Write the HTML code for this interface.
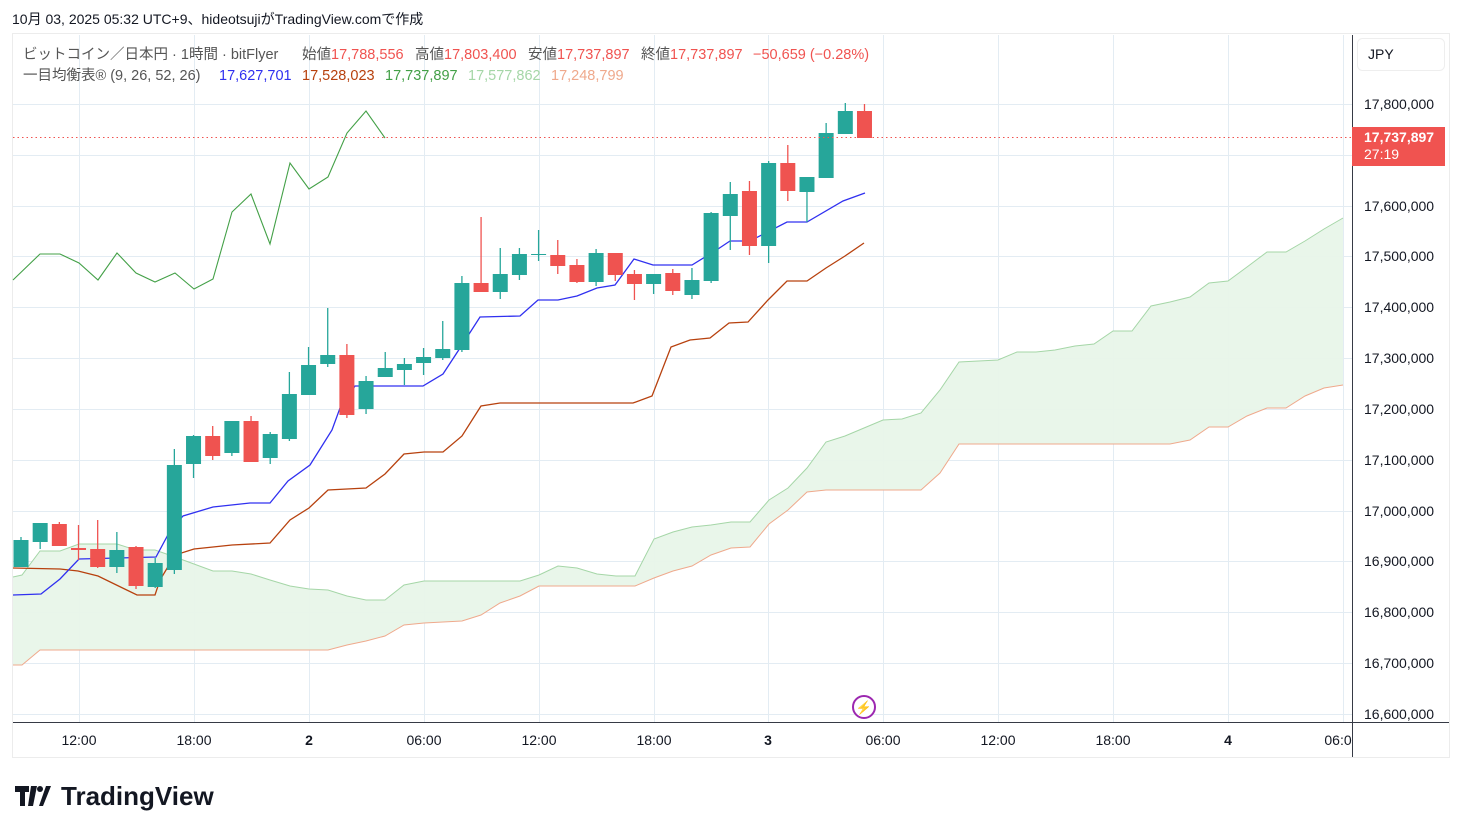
<!DOCTYPE html>
<html><head><meta charset="utf-8">
<style>
html,body{margin:0;padding:0;background:#fff;width:1462px;height:833px;overflow:hidden;font-family:"Liberation Sans","Noto Sans CJK JP",sans-serif;}
svg{position:absolute;left:0;top:0}
text{font-family:"Liberation Sans","Noto Sans CJK JP",sans-serif;}
</style></head><body>
<svg id="s" width="1462" height="833" xmlns="http://www.w3.org/2000/svg">
<rect x="12.5" y="33.5" width="1437" height="724" fill="#fff" stroke="#ececec"/>
<g id="grid" stroke="#e3ecf3" stroke-width="1"></g>
<polygon id="cloud" fill="#e8f5e9" opacity="0.95"/>
<polyline id="sa" fill="none" stroke="#a5d6a7" stroke-width="1"/>
<polyline id="sb" fill="none" stroke="#efa98c" stroke-width="1"/>
<polyline id="kij" fill="none" stroke="#b7410e" stroke-width="1.3"/>
<polyline id="ten" fill="none" stroke="#3030f0" stroke-width="1.3"/>
<polyline id="chi" fill="none" stroke="#43a047" stroke-width="1.1"/>
<g id="cd"></g>
<line x1="13" y1="137.5" x2="1352" y2="137.5" stroke="#f05350" stroke-dasharray="1.5,3" stroke-width="1"/>
<line x1="1352.5" y1="35" x2="1352.5" y2="757" stroke="#363a45"/>
<line x1="13" y1="722.5" x2="1449" y2="722.5" stroke="#363a45"/>
<g id="ylab" font-size="14" fill="#131722"></g>
<g font-size="14" fill="#131722" text-anchor="middle">
<text x="79" y="745">12:00</text><text x="194" y="745">18:00</text><text x="309" y="745" font-weight="bold">2</text><text x="424" y="745">06:00</text><text x="539" y="745">12:00</text><text x="654" y="745">18:00</text><text x="768" y="745" font-weight="bold">3</text><text x="883" y="745">06:00</text><text x="998" y="745">12:00</text><text x="1113" y="745">18:00</text><text x="1228" y="745" font-weight="bold">4</text><text x="1338" y="745">06:0</text>
</g>
<rect x="1352" y="127" width="93" height="39" fill="#f05350"/>
<text x="1364" y="142" font-size="14" font-weight="bold" fill="#fff">17,737,897</text>
<text x="1364" y="159" font-size="14" fill="#fff">27:19</text>
<rect x="1357.5" y="38.5" width="87" height="32" rx="5" fill="#fff" stroke="#eeeeee"/>
<text x="1368" y="59" font-size="14" fill="#131722">JPY</text>
<circle cx="864" cy="707" r="11" fill="#fff" stroke="#9c27b0" stroke-width="2"/>
<text x="864" y="712" font-size="13" fill="#9c27b0" text-anchor="middle">⚡</text>
<text x="12" y="24" font-size="14" fill="#131722">10月 03, 2025 05:32 UTC+9、hideotsujiがTradingView.comで作成</text>
<g font-size="14.5" fill="#555">
<text x="23" y="59">ビットコイン／日本円 · 1時間 · bitFlyer</text>
<text x="302" y="59">始値<tspan fill="#f05350">17,788,556</tspan></text>
<text x="415" y="59">高値<tspan fill="#f05350">17,803,400</tspan></text>
<text x="528" y="59">安値<tspan fill="#f05350">17,737,897</tspan></text>
<text x="641" y="59">終値<tspan fill="#f05350">17,737,897</tspan></text>
<text x="753" y="59" fill="#f05350">−50,659 (−0.28%)</text>
<text x="23" y="80">一目均衡表® (9, 26, 52, 26)</text>
<text x="219" y="80" fill="#3030f0">17,627,701</text>
<text x="302" y="80" fill="#b7410e">17,528,023</text>
<text x="385" y="80" fill="#43a047">17,737,897</text>
<text x="468" y="80" fill="#a5d6a7">17,577,862</text>
<text x="551" y="80" fill="#efa98c">17,248,799</text>
</g>
<g transform="translate(15,784)" fill="#131722">
<path d="M0 2h14v6h-4v14h-5V8H0z M16 2h6l-4 20h-5z"/>
<circle cx="25" cy="5" r="3"/>
<path d="M24 22l7-20h5l-8 20z"/>
<text x="46" y="21" font-size="26" font-weight="bold" letter-spacing="0">TradingView</text>
</g>
</svg>
<script>
var ns="http://www.w3.org/2000/svg";
function el(p,t,a){var e=document.createElementNS(ns,t);for(var k in a)e.setAttribute(k,a[k]);p.appendChild(e);return e;}
var g=document.getElementById('grid');
[79,194,309,424,539,654,768,883,998,1113,1228,1343].forEach(function(x){el(g,'line',{x1:x+.5,y1:35,x2:x+.5,y2:722});});
var labs=["17,800,000","17,700,000","17,600,000","17,500,000","17,400,000","17,300,000","17,200,000","17,100,000","17,000,000","16,900,000","16,800,000","16,700,000","16,600,000"];
var yl=document.getElementById('ylab');
for(var i=0;i<13;i++){var y=Math.round(104+i*50.83);el(g,'line',{x1:13,y1:y+.5,x2:1352,y2:y+.5});if(i!=1){var t=el(yl,'text',{x:1364,y:y+5});t.textContent=labs[i];}}
function pts(a){return a.map(function(p){return p[0]+','+p[1]}).join(' ');}
var SA=[[13,577],[22,575],[40,551],[60,551],[79,544],[117,544],[136,550],[155,550],[175,557],[194,564],[213,571],[232,571],[251,574],[270,580],[290,586],[309,589],[328,590],[347,596],[366,600],[385,600],[404,585],[424,581],[520,581],[539,575],[558,566],[577,568],[597,574],[616,576],[635,576],[654,539],[673,532],[692,527],[711,525],[731,522],[750,522],[769,500],[788,488],[807,468],[826,442],[845,436],[864,428],[883,420],[902,419],[921,413],[940,390],[959,362],[998,360],[1017,352],[1036,352],[1055,350],[1075,346],[1094,344],[1113,331],[1132,331],[1151,306],[1170,302],[1190,297],[1209,283],[1228,281],[1247,267],[1267,252],[1286,252],[1305,241],[1324,229],[1343,218]];
var SB=[[13,665],[22,665],[40,650],[98,650],[328,650],[347,645],[366,641],[385,636],[404,625],[424,623],[462,621],[481,615],[500,603],[520,596],[539,586],[635,586],[654,578],[673,571],[692,566],[711,555],[731,548],[750,547],[769,524],[788,510],[807,492],[826,490],[921,490],[940,473],[959,444],[1170,444],[1190,440],[1209,427],[1228,427],[1247,416],[1267,408],[1286,408],[1305,396],[1324,388],[1343,385]];
document.getElementById('sa').setAttribute('points',pts(SA));
document.getElementById('sb').setAttribute('points',pts(SB));
document.getElementById('cloud').setAttribute('points',pts(SA.concat(SB.slice().reverse())));
document.getElementById('ten').setAttribute('points',pts([[13,595],[41,594],[60,579],[79,559],[156,557],[170,531],[183,516],[213,507],[250,503],[270,503],[288,481],[310,465],[332,430],[340,408],[355,386],[423,386],[443,374],[462,345],[480,317],[520,316],[538,300],[558,300],[577,296],[597,288],[615,285],[634,259],[653,265],[692,265],[718,249],[730,241],[750,241],[787,222],[807,222],[843,201],[865,193]]));
document.getElementById('kij').setAttribute('points',pts([[13,568],[60,569],[78,571],[98,576],[137,595],[155,595],[160,580],[175,555],[194,549],[232,545],[270,543],[290,520],[309,508],[328,490],[366,488],[385,474],[404,454],[424,452],[443,452],[462,436],[481,406],[500,403],[633,403],[652,396],[671,347],[690,340],[710,338],[729,323],[748,322],[768,300],[787,281],[807,281],[826,268],[845,256],[864,243]]));
document.getElementById('chi').setAttribute('points',pts([[13,280],[40,254],[60,254],[79,263],[98,280],[117,253],[136,273],[155,282],[175,273],[194,289],[213,279],[232,212],[251,194],[270,244],[290,163],[309,189],[328,177],[347,133],[366,111],[385,138]]));
var C=[[540,567,537,567,1],[523,542,523,549,1],[524,546,522,546,0],[548,550,525,560,0],[549,567,520,568,0],[550,567,532,573,1],[547,586,546,589,0],[563,587,558,588,1],[465,570,449,574,1],[436,464,435,478,1],[436,456,426,460,0],[421,453,421,456,1],[421,462,416,462,0],[434,458,432,464,1],[394,439,372,441,1],[365,395,347,395,1],[355,364,308,367,1],[355,415,344,418,0],[381,409,376,414,1],[368,377,352,377,1],[364,370,358,385,1],[357,363,348,375,1],[349,358,321,360,1],[283,350,276,352,1],[283,292,217,292,0],[274,292,248,299,1],[254,275,248,280,1],[254,255,230,261,1],[255,266,240,274,0],[265,282,259,283,0],[253,282,249,286,1],[253,275,253,281,0],[274,284,270,300,0],[274,284,274,294,1],[273,291,269,295,0],[280,295,268,299,1],[213,281,212,283,1],[194,216,182,250,1],[191,246,181,255,0],[163,246,161,263,1],[163,191,145,201,0],[177,192,177,222,1],[133,178,123,178,1],[111,134,103,134,1],[111,138,104,138,0]];
var cd=document.getElementById('cd');
C.forEach(function(c,i){var x=21+19.17*i;var col=c[4]?'#26a69a':'#ef5350';
el(cd,'line',{x1:x,y1:c[2],x2:x,y2:c[3],stroke:col,'stroke-width':1.3});
el(cd,'rect',{x:x-7.5,y:c[0],width:15,height:Math.max(1,c[1]-c[0]),fill:col});});
</script>
</body></html>
